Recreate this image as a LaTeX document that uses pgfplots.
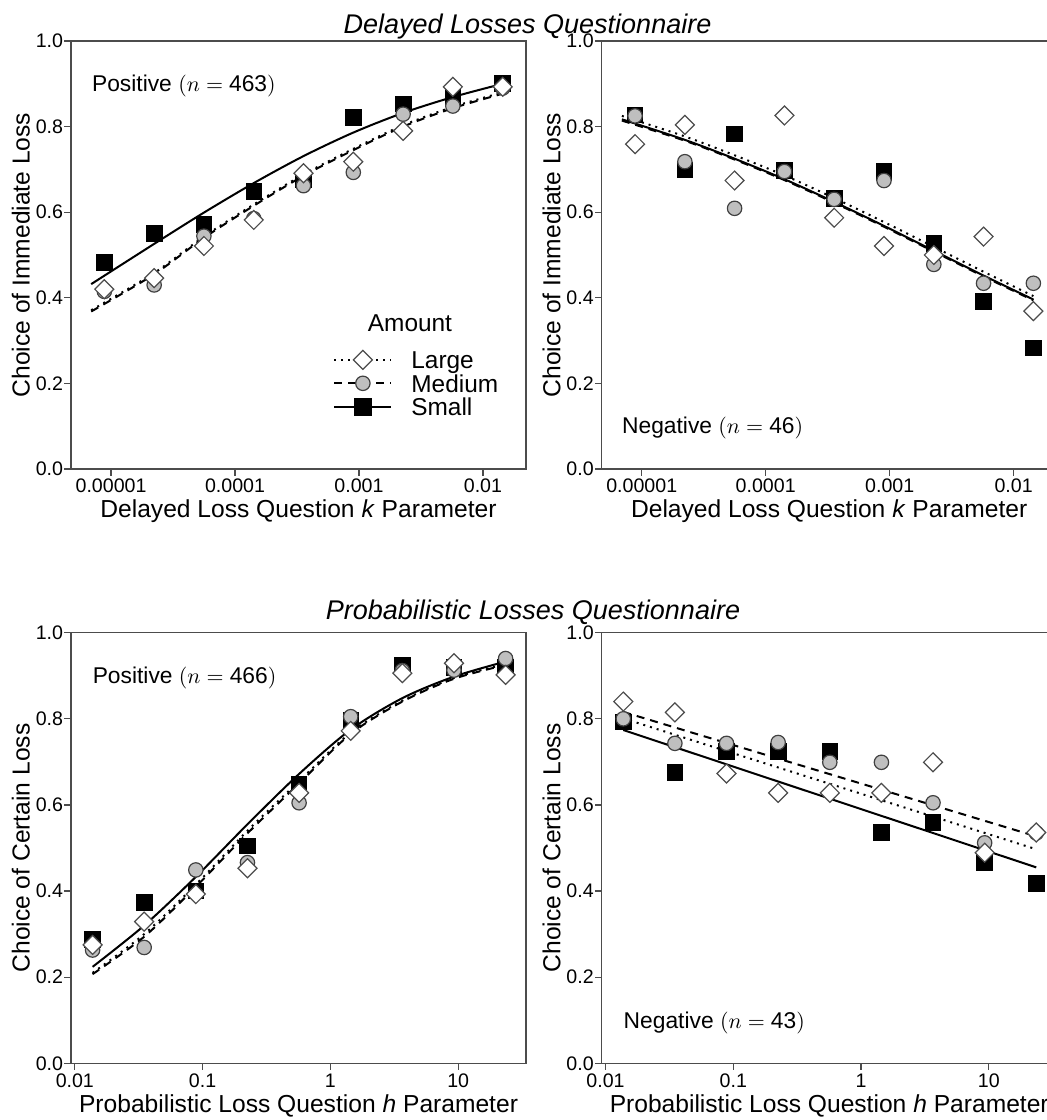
\documentclass[border=0pt]{standalone}
\usepackage{fontspec}
\setmainfont{Liberation Sans}
\usepackage{pgfplots}
\usepackage{pgfplotstable}
\pgfplotsset{compat=1.18}

\newcommand{\tickfont}{\fontsize{9.8}{11}\selectfont}
\newcommand{\labfont}{\fontsize{12.3}{14}\selectfont}
\newcommand{\panfont}{\fontsize{11.4}{14}\selectfont}

% Delayed, positive
\pgfplotstableread{
x S M L
8.83e-6  0.483 0.415 0.420
2.228e-5 0.551 0.430 0.446
5.61e-5  0.572 0.544 0.521
1.416e-4 0.648 0.585 0.582
3.565e-4 0.675 0.662 0.691
8.995e-4 0.822 0.693 0.718
2.270e-3 0.853 0.829 0.790
5.715e-3 0.870 0.848 0.893
1.442e-2 0.901 0.890 0.893
}\dpos
\pgfplotstableread{
x S M L
6.92e-6  0.432 0.368 0.371
2.228e-5 0.526 0.455 0.458
5.61e-5  0.599 0.540 0.543
1.416e-4 0.668 0.615 0.618
3.565e-4 0.731 0.685 0.688
8.995e-4 0.786 0.745 0.748
2.270e-3 0.832 0.800 0.803
5.715e-3 0.869 0.843 0.846
1.442e-2 0.900 0.877 0.880
}\dposfit
% Delayed, negative
\pgfplotstableread{
x S M L
8.83e-6  0.827 0.825 0.759
2.228e-5 0.699 0.718 0.804
5.61e-5  0.783 0.609 0.674
1.416e-4 0.697 0.695 0.826
3.565e-4 0.632 0.630 0.587
8.995e-4 0.695 0.674 0.521
2.270e-3 0.527 0.478 0.500
5.715e-3 0.391 0.434 0.543
1.442e-2 0.283 0.434 0.369
}\dneg
\pgfplotstableread{
x S M L
6.92e-6  0.817 0.814 0.825
2.228e-5 0.769 0.767 0.777
5.61e-5  0.725 0.723 0.733
1.416e-4 0.677 0.675 0.686
3.565e-4 0.624 0.622 0.633
8.995e-4 0.568 0.566 0.577
2.270e-3 0.510 0.508 0.519
5.715e-3 0.452 0.450 0.461
1.442e-2 0.396 0.394 0.404
}\dnegfit
% Probabilistic, positive
\pgfplotstableread{
x S M L
0.01377 0.288 0.263 0.275
0.0349  0.373 0.269 0.329
0.0885  0.400 0.449 0.393
0.2244  0.505 0.466 0.453
0.569   0.649 0.605 0.628
1.443   0.797 0.805 0.772
3.656   0.925 0.912 0.906
9.27    0.920 0.913 0.929
23.5    0.921 0.940 0.902
}\ppos
\pgfplotstableread{
x S M L
0.01377 0.224 0.207 0.210
0.0349  0.320 0.294 0.300
0.0885  0.433 0.410 0.415
0.2244  0.555 0.534 0.540
0.569   0.672 0.650 0.655
1.443   0.775 0.765 0.768
3.656   0.848 0.840 0.842
9.27    0.898 0.893 0.895
23.5    0.933 0.925 0.927
}\pposfit
% Probabilistic, negative
\pgfplotstableread{
x S M L
0.01377 0.793 0.800 0.840
0.0349  0.676 0.743 0.815
0.0885  0.724 0.743 0.673
0.2244  0.724 0.745 0.628
0.569   0.724 0.699 0.628
1.443   0.536 0.699 0.628
3.656   0.559 0.605 0.699
9.27    0.466 0.512 0.489
23.5    0.418 0.535 0.536
}\pneg
\pgfplotstableread{
x S M L
0.01377 0.774 0.816 0.801
0.569   0.6145 0.6715 0.649
23.5    0.455 0.527 0.497
}\pnegfit

\pgfplotsset{
  legend image code/.code={\draw[mark repeat=2,mark phase=2,#1] plot coordinates {(0pt,0pt) (14.25pt,0pt) (28.5pt,0pt)};},
}
\pgfplotsset{
  mypanel/.style={
    scale only axis, width=227.5pt,
    ymin=0, ymax=1,
    axis line style={black!70, line width=0.6pt},
    every tick/.style={black!70, line width=0.6pt},
    tick align=outside, xtick pos=left, ytick pos=left,
    major tick length=3.3pt, xminorticks=false,
    ytick={0,0.2,0.4,0.6,0.8,1}, yticklabels={0.0,0.2,0.4,0.6,0.8,1.0},
    tick label style={font=\tickfont},
    xticklabel style={anchor=base, yshift=-8.55pt},
    yticklabel style={anchor=east, inner sep=0.5pt},
    label style={font=\labfont},
    xlabel style={at={(axis description cs:0.5,-0.114)}, anchor=base},
    ylabel style={at={(axis description cs:-0.110,0.5)}, anchor=center},
  },
  mytop/.style={mypanel, height=214pt, xmin=4.753e-6, xmax=0.02223,
    xtick={1e-5,1e-4,1e-3,1e-2}, xticklabels={0.00001,0.0001,0.001,0.01},
    xlabel={Delayed Loss Question \textit{k} Parameter},
    ylabel={Choice of Immediate Loss}},
  mybot/.style={mypanel, height=215.3pt, xmin=0.009333, xmax=33.96,
    xtick={0.01,0.1,1,10}, xticklabels={0.01,0.1,1,10},
    xlabel={Probabilistic Loss Question \textit{h} Parameter},
    ylabel={Choice of Certain Loss}},
  smallpt/.style={forget plot, only marks, mark=square*, mark size=3.9pt, mark options={fill=black, draw=black}},
  medpt/.style={forget plot, only marks, mark=*, mark size=3.6pt, mark options={fill=gray!50, draw=black!75, line width=0.6pt}},
  largept/.style={forget plot, only marks, mark=square*, mark size=3.35pt, mark options={rotate=45, fill=white, draw=black!70, line width=0.6pt}},
  smallfit/.style={forget plot, black, line width=1pt, no marks, smooth},
  medfit/.style={forget plot, black, line width=1pt, no marks, smooth, dash pattern=on 4pt off 3pt},
  largefit/.style={forget plot, black, line width=1pt, no marks, smooth, dash pattern=on 1pt off 2.5pt},
}

\newcommand{\drawpanel}[2]{%
  \addplot[smallpt] table[x=x,y=S]{#1};
  \addplot[medpt] table[x=x,y=M]{#1};
  \addplot[largept] table[x=x,y=L]{#1};
  \addplot[smallfit] table[x=x,y=S]{#2};
  \addplot[medfit] table[x=x,y=M]{#2};
  \addplot[largefit] table[x=x,y=L]{#2};
}

\begin{document}
\begin{tikzpicture}
% top left
\begin{axis}[xmode=log, mytop, at={(35.5pt,325.5pt)}, anchor=south west,
  legend cell align=left,
  legend style={draw=none, fill=none, at={(0.5758,0.2835)}, anchor=north west,
    inner sep=0pt, row sep=0pt, font=\fontsize{12.2}{14}\selectfont,
    nodes={inner sep=0pt, text height=10.25pt, text depth=1.5pt},
    /tikz/every odd column/.append style={column sep=9.5pt}},
]
\drawpanel{\dpos}{\dposfit}
\addlegendimage{black, line width=1pt, dash pattern=on 1pt off 2.5pt, mark=square*, mark size=3.35pt, mark options={solid, rotate=45, fill=white, draw=black!70, line width=0.6pt}}
\addlegendentry{Large}
\addlegendimage{black, line width=1pt, dash pattern=on 4pt off 3pt, mark=*, mark size=3.6pt, mark options={solid, fill=gray!50, draw=black!75, line width=0.6pt}}
\addlegendentry{Medium}
\addlegendimage{black, line width=1pt, mark=square*, mark size=3.9pt, mark options={solid, fill=black}}
\addlegendentry{Small}
\node[font=\fontsize{12.2}{14}\selectfont] at (rel axis cs:0.745,0.341) {Amount};
\node[anchor=base west, inner sep=0pt, font=\panfont] at (rel axis cs:0.0455,0.8815) {Positive $(n = \mbox{463})$};
\end{axis}
% top right
\begin{axis}[xmode=log, mytop, at={(300.85pt,325.5pt)}, anchor=south west]
\drawpanel{\dneg}{\dnegfit}
\node[anchor=base west, inner sep=0pt, font=\panfont] at (rel axis cs:0.044,0.0818) {Negative $(n = \mbox{46})$};
\end{axis}
% bottom left
\begin{axis}[xmode=log, mybot, at={(35.5pt,28.35pt)}, anchor=south west]
\drawpanel{\ppos}{\pposfit}
\node[anchor=base west, inner sep=0pt, font=\panfont] at (rel axis cs:0.047,0.8825) {Positive $(n = \mbox{466})$};
\end{axis}
% bottom right
\begin{axis}[xmode=log, mybot, at={(300.85pt,28.35pt)}, anchor=south west]
\drawpanel{\pneg}{\pnegfit}
\node[anchor=base west, inner sep=0pt, font=\panfont] at (rel axis cs:0.0475,0.0813) {Negative $(n = \mbox{43})$};
\end{axis}
\node[anchor=base, font=\itshape\fontsize{13.5}{16}\selectfont] at (263.75pt,543.35pt) {Delayed Losses Questionnaire};
\node[anchor=base, font=\itshape\fontsize{13.5}{16}\selectfont] at (266.5pt,250pt) {Probabilistic Losses Questionnaire};
\pgfresetboundingbox
\useasboundingbox (0pt,0pt) rectangle (523.5pt,560pt);
\end{tikzpicture}
\end{document}
